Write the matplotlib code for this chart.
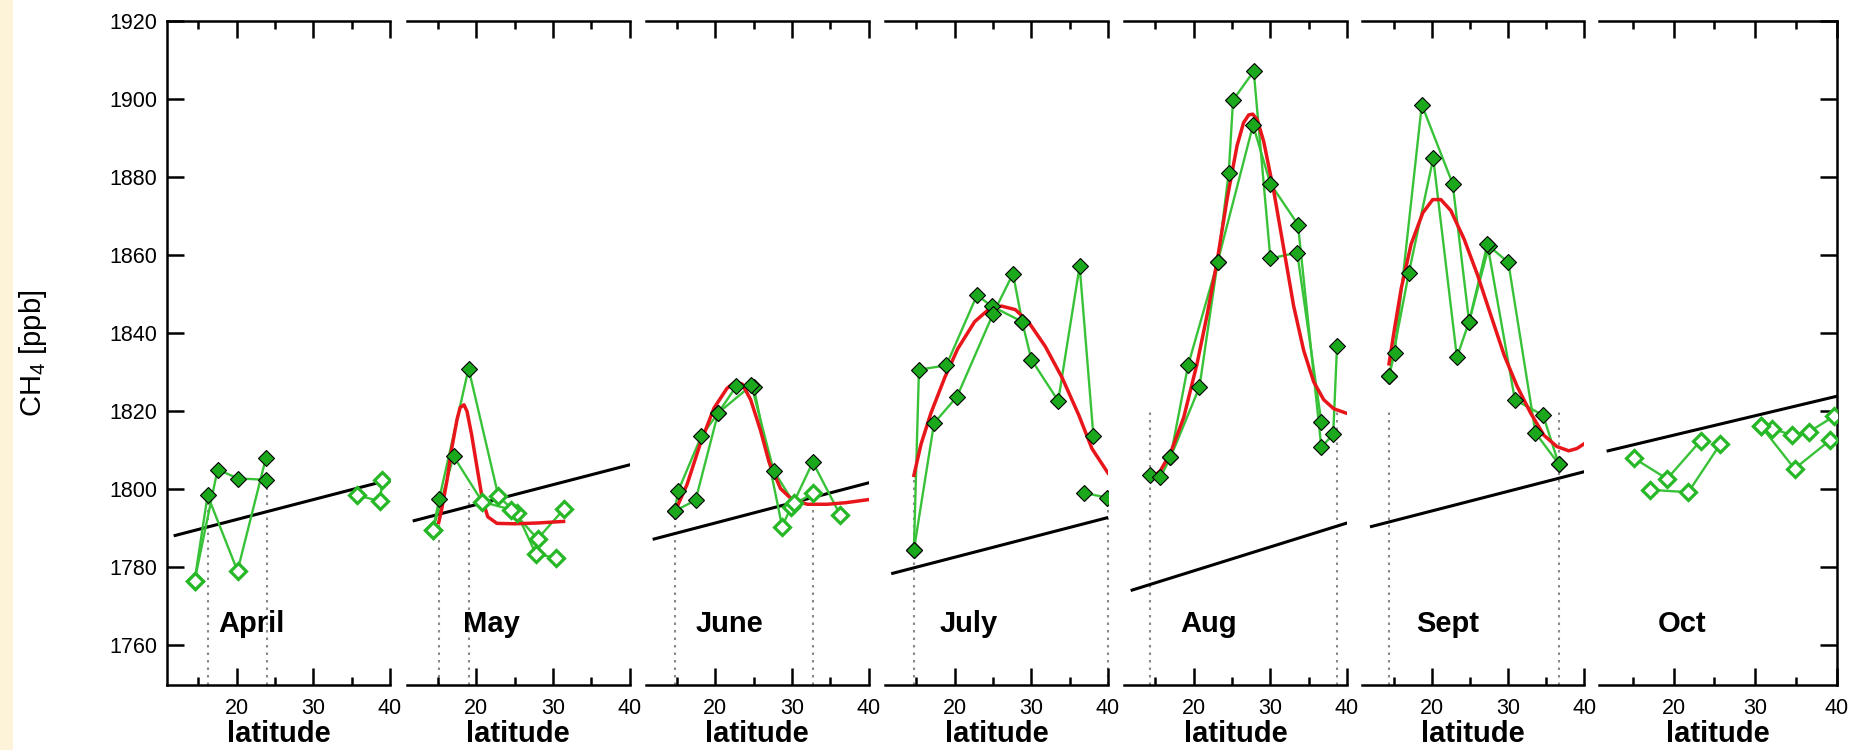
# CH4 vs latitude, one panel per month (April - Oct)
import matplotlib.pyplot as plt
from matplotlib.patches import Rectangle

plt.rcParams['font.family'] = ['Liberation Sans', 'DejaVu Sans']
plt.rcParams['mathtext.fontset'] = 'custom'
plt.rcParams['mathtext.rm'] = 'Liberation Sans'
plt.rcParams['mathtext.default'] = 'regular'

months = ['April', 'May', 'June', 'July', 'Aug', 'Sept', 'Oct']

# flight tracks: (latitude, CH4 [ppb], filled marker 1 / open 0)
april_tracks = [
    ([14.5, 16.2, 20.1, 23.8], [1776.6, 1798.5, 1779.1, 1808.0], [0, 1, 0, 1]),
    ([14.5, 17.5, 20.2, 23.8], [1776.6, 1805.1, 1802.8, 1802.5], [0, 1, 1, 1]),
    ([35.7, 38.7, 39.0], [1798.5, 1797.0, 1802.5], [0, 0, 0]),
]
may_tracks = [
    ([14.35, 15.17, 19.0, 22.9, 25.3, 27.8, 30.4],
     [1789.6, 1797.6, 1831.0, 1798.2, 1793.9, 1783.4, 1782.5], [0, 1, 1, 0, 0, 0, 0]),
    ([14.35, 17.04, 20.8, 24.6, 28.0, 31.5],
     [1789.6, 1808.5, 1796.8, 1794.8, 1787.3, 1795.1], [0, 1, 0, 0, 0, 0]),
]
june_tracks = [
    ([14.7, 15.13, 18.17, 20.35, 22.7, 25.0, 28.7, 29.9, 32.7],
     [1794.5, 1799.6, 1813.7, 1819.6, 1826.4, 1826.2, 1790.5, 1795.6, 1799.1],
     [1, 1, 1, 1, 1, 1, 0, 0, 0]),
    ([14.7, 17.4, 20.35, 24.7, 27.6, 30.2, 32.7, 36.3],
     [1794.5, 1797.2, 1819.6, 1826.7, 1804.8, 1796.6, 1807.0, 1793.4],
     [1, 1, 1, 1, 1, 0, 1, 0]),
]
july_tracks = [
    ([14.67, 15.33, 18.9, 22.9, 24.8, 28.8, 30.0, 33.5, 36.3, 38.1],
     [1784.5, 1830.7, 1831.8, 1849.8, 1847.0, 1843.0, 1833.3, 1822.7, 1857.3, 1813.6],
     [1] * 10),
    ([14.67, 17.3, 20.3, 25.0, 27.6, 28.8],
     [1784.5, 1817.0, 1823.8, 1845.0, 1855.3, 1843.0], [1] * 6),
    ([36.9, 39.9], [1799.1, 1797.9], [1, 1]),
]
aug_tracks = [
    ([14.26, 15.65, 16.96, 19.26, 23.13, 24.57, 25.13, 27.83, 30.0, 33.5, 36.65],
     [1803.6, 1803.1, 1808.2, 1831.8, 1858.4, 1881.2, 1899.8, 1907.2, 1859.2, 1860.7, 1817.3],
     [1] * 11),
    ([16.96, 20.74, 23.13, 27.74, 30.0, 33.6, 36.65, 38.2, 38.7],
     [1808.2, 1826.2, 1858.4, 1893.4, 1878.4, 1867.9, 1810.8, 1814.2, 1836.7],
     [1] * 9),
]
sept_tracks = [
    ([14.4, 15.13, 18.7, 22.74, 24.9, 27.5, 30.04, 33.6, 36.65],
     [1829.0, 1835.0, 1898.6, 1878.4, 1843.0, 1862.4, 1858.2, 1814.5, 1806.5], [1] * 9),
    ([14.4, 17.0, 20.2, 23.3, 24.9, 27.3, 30.9, 34.6, 36.65],
     [1829.0, 1855.5, 1884.9, 1833.9, 1843.0, 1862.9, 1823.0, 1819.0, 1806.5], [1] * 9),
]
oct_tracks = [
    ([15.15, 19.2, 23.3], [1808.0, 1802.7, 1812.5], [0, 0, 0]),
    ([17.1, 21.8, 25.7], [1799.9, 1799.3, 1811.6], [0, 0, 0]),
    ([30.7, 32.1, 34.5, 36.6, 39.6], [1816.2, 1815.6, 1813.9, 1814.8, 1818.7], [0] * 5),
    ([30.7, 34.8, 39.2], [1816.2, 1805.3, 1812.7], [0, 0, 0]),
]

# fitted curves (red)
may_fit_lat = [15.1, 15.5, 16.2, 16.8, 17.5, 17.9, 18.4, 18.8, 19.4, 20.2, 20.8, 21.5, 22.7, 25.0, 28.0, 31.4]
may_fit_ch4 = [1791.5, 1795.0, 1802.5, 1810.5, 1818.0, 1821.0, 1821.7, 1820.0, 1814.0, 1804.5,
               1797.5, 1793.0, 1791.3, 1791.2, 1791.4, 1791.8]
june_fit_lat = [14.9, 16.3, 18.0, 19.8, 21.5, 22.6, 23.5, 24.6, 25.9, 27.0, 28.5, 30.0, 32.0, 34.6, 37.0, 40.0]
june_fit_ch4 = [1795.1, 1801.3, 1811.6, 1820.8, 1825.9, 1827.6, 1827.0, 1823.0, 1815.0, 1807.0,
                1800.2, 1797.4, 1796.2, 1796.2, 1796.6, 1797.4]
july_fit_lat = [14.67, 15.6, 16.9, 18.7, 20.4, 22.6, 24.4, 26.1, 27.9, 29.6, 31.8, 34.0, 36.2, 37.9, 40.0]
july_fit_ch4 = [1803.6, 1811.6, 1819.6, 1828.7, 1836.1, 1843.0, 1846.1, 1847.0, 1846.1, 1843.0,
                1836.7, 1828.7, 1819.0, 1810.5, 1804.2]
aug_fit_lat = [14.26, 15.65, 16.96, 18.7, 20.43, 21.74, 23.04, 24.35, 25.65, 26.5, 27.17, 27.7, 28.26,
               29.13, 30.43, 31.74, 33.04, 34.35, 35.65, 36.96, 38.26, 39.83]
aug_fit_ch4 = [1802.5, 1804.8, 1809.3, 1818.5, 1832.2, 1844.7, 1858.4, 1874.4, 1888.1, 1894.0, 1896.0,
               1896.2, 1894.9, 1889.2, 1876.6, 1861.8, 1847.0, 1835.6, 1827.6, 1823.0, 1820.7, 1819.6]
sept_fit_lat = [14.4, 15.13, 16.0, 17.3, 18.83, 20.13, 21.2, 22.5, 24.26, 26.0, 27.74, 29.5, 31.2,
                32.96, 34.7, 36.4, 37.96, 39.04, 39.9]
sept_fit_ch4 = [1832.2, 1841.3, 1851.5, 1862.9, 1870.9, 1874.3, 1874.3, 1871.5, 1864.1, 1855.0, 1844.7,
                1834.4, 1826.4, 1819.6, 1813.9, 1811.0, 1809.9, 1810.5, 1811.6]

# background lines (black): two end points
bg_lat = [(11.96, 40.0), (11.9, 40.0), (12.0, 40.0), (11.9, 40.0), (11.96, 40.0), (12.1, 39.9), (11.98, 40.0)]
bg_ch4 = [(1788.2, 1802.5), (1792.0, 1806.3), (1787.3, 1801.7), (1778.5, 1792.8),
          (1774.2, 1791.4), (1790.5, 1804.5), (1809.9, 1823.9)]

# dotted latitude limits: (latitude, top of the line)
bounds = [
    [(16.2, 1798.5), (23.9, 1802.5)],
    [(15.2, 1796.0), (19.0, 1800.2)],
    [(14.7, 1794.5), (32.7, 1799.0)],
    [(14.67, 1803.6), (40.0, 1797.9)],
    [(14.26, 1820.2), (38.7, 1820.2)],
    [(14.4, 1820.2), (36.65, 1820.2)],
    [],
]

all_tracks = [april_tracks, may_tracks, june_tracks, july_tracks, aug_tracks, sept_tracks, oct_tracks]
fits = [None, (may_fit_lat, may_fit_ch4), (june_fit_lat, june_fit_ch4), (july_fit_lat, july_fit_ch4),
        (aug_fit_lat, aug_fit_ch4), (sept_fit_lat, sept_fit_ch4), None]

# layout in pixels
W, H = 1857, 750
lefts = [167, 406.5, 645.7, 885, 1124, 1362.3, 1599.3]
widths = [223, 223, 223, 223, 223, 222, 237.7]
label_x = [17.6, 18.3, 17.4, 18.0, 18.3, 17.9, 18.0]

green_line = '#38c238'
green_fill = '#1ca81c'
green_edge = '#26b826'

fig = plt.figure(figsize=(W / 100, H / 100), dpi=100)
fig.add_artist(Rectangle((0, 0), 13 / W, 1, transform=fig.transFigure,
                         facecolor='#fcf3d8', edgecolor='none', zorder=0))

axs = []
for i, month in enumerate(months):
    ax = fig.add_axes([lefts[i] / W, 65.5 / H, widths[i] / W, 663.2 / H])
    axs.append(ax)
    ax.set_xlim(10.9, 40)
    ax.set_ylim(1750, 1920)

    for lat, top in bounds[i]:
        ax.plot([lat, lat], [1750, top], color='#8a8a8a', lw=1.5, ls=(0, (1.2, 2.4)),
                zorder=1, clip_on=False)
    ax.plot(bg_lat[i], bg_ch4[i], color='black', lw=2.2, zorder=2)

    for lat, ch4, filled in all_tracks[i]:
        ax.plot(lat, ch4, color=green_line, lw=1.7, zorder=3)
    if fits[i] is not None:
        ax.plot(fits[i][0], fits[i][1], color='#e8161a', lw=2.5, zorder=4)
    for lat, ch4, filled in all_tracks[i]:
        lf = [x for x, f in zip(lat, filled) if f]
        cf = [y for y, f in zip(ch4, filled) if f]
        lo = [x for x, f in zip(lat, filled) if not f]
        co = [y for y, f in zip(ch4, filled) if not f]
        ax.plot(lf, cf, ls='none', marker='D', ms=8.5, mfc=green_fill, mec='black', mew=0.8, zorder=5)
        ax.plot(lo, co, ls='none', marker='D', ms=8, mfc='white', mec=green_edge, mew=2.3, zorder=5)

    ax.text(label_x[i], 1765.5, month, fontsize=21, fontweight='bold', ha='left', va='center', zorder=6)

    # axes styling
    ax.set_xticks([20, 30, 40])
    ax.set_xticks([15, 25, 35], minor=True)
    ax.tick_params(axis='x', which='both', direction='in', top=True, bottom=True, width=1.8)
    ax.tick_params(axis='x', which='major', length=12, labelsize=15.5, pad=10)
    ax.tick_params(axis='x', which='minor', length=6)
    ax.set_xlabel('latitude', fontsize=21, fontweight='bold', labelpad=0.5)
    ax.set_yticks(range(1760, 1921, 20))
    for s in ax.spines.values():
        s.set_linewidth(1.8)
    if i == 0:
        ax.tick_params(axis='y', direction='in', left=True, right=False, length=12, width=1.8,
                       labelsize=15.5, pad=7)
        ax.spines['right'].set_visible(False)
        ax.set_ylabel(r'CH$_4$ [ppb]', fontsize=21)
        ax.yaxis.set_label_coords(-0.53, 0.5)
    elif i == len(months) - 1:
        ax.tick_params(axis='y', direction='in', left=False, right=True, labelleft=False,
                       length=12, width=1.8)
        ax.spines['left'].set_visible(False)
    else:
        ax.tick_params(axis='y', left=False, right=False, labelleft=False)
        ax.spines['left'].set_visible(False)
        ax.spines['right'].set_visible(False)

plt.savefig('out.png', dpi=100)
